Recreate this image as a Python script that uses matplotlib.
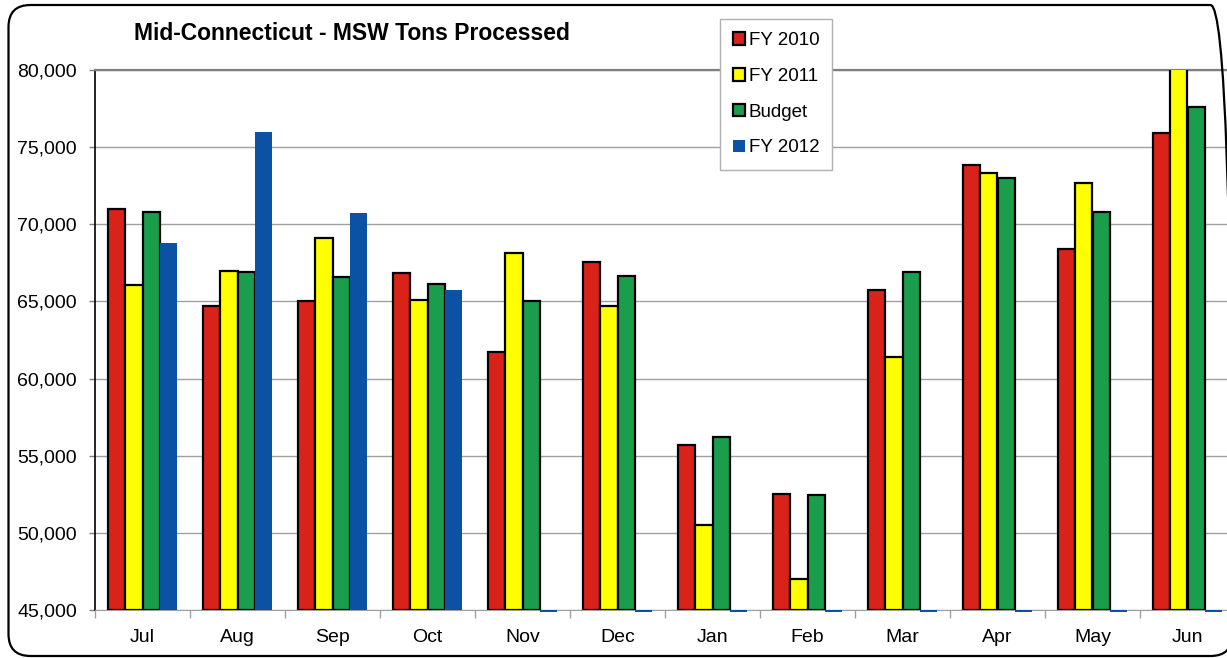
import matplotlib
matplotlib.use("Agg")
import matplotlib.pyplot as plt
from matplotlib.patches import FancyBboxPatch, Patch
from matplotlib.ticker import FuncFormatter, FixedLocator
import numpy as np

plt.rcParams['font.family'] = ['Liberation Sans', 'DejaVu Sans']

months = ["Jul", "Aug", "Sep", "Oct", "Nov", "Dec", "Jan", "Feb", "Mar", "Apr", "May", "Jun"]
fy2010 = [71000, 64700, 65030, 66840, 61720, 67560, 55700, 52520, 65740, 73840, 68400, 75920]
fy2011 = [66070, 66970, 69110, 65100, 68140, 64700, 50510, 47010, 61400, 73330, 72680, 81000]
budget = [70800, 66910, 66590, 66130, 65030, 66640, 56220, 52460, 66910, 73000, 70800, 77600]
fy2012 = [68790, 75980, 70730, 65740, 0, 0, 0, 0, 0, 0, 0, 0]

series = [
    ("FY 2010", fy2010, "#d8221a", True),
    ("FY 2011", fy2011, "#ffff00", True),
    ("Budget", budget, "#1a9e4c", True),
    ("FY 2012", fy2012, "#0b52a5", False),
]

ymin, ymax = 45000, 80000

fig = plt.figure(figsize=(12.27, 6.58), dpi=100)
ax = fig.add_axes([95 / 1227, 48 / 658, 1140 / 1227, 540 / 658])

x = np.arange(len(months))
w = 1 / 5.5
for i, (name, vals, col, edged) in enumerate(series):
    pos = x + (i - 1.5) * w
    vals = np.array(vals, dtype=float)
    if edged:
        ax.bar(pos, vals - ymin, bottom=ymin, width=w, color=col,
               edgecolor="black", linewidth=1.6, zorder=3)
    else:
        shown = vals > 0
        ax.bar(pos[shown], vals[shown] - ymin, bottom=ymin, width=w,
               color=col, linewidth=0, zorder=3)
        # zero values: Excel leaves a thin sliver under the axis
        ax.bar(pos[~shown], -130, bottom=ymin, width=w, color=col,
               linewidth=0, zorder=3, clip_on=False)

ax.set_xlim(-0.5, len(months) - 0.5)
ax.set_ylim(ymin, ymax)
ax.set_yticks(np.arange(ymin, ymax + 1, 5000))
ax.yaxis.set_major_formatter(FuncFormatter(lambda v, p: f"{int(v):,}"))
ax.set_xticks(x)
ax.set_xticklabels(months)
ax.xaxis.set_minor_locator(FixedLocator(np.arange(-0.5, len(months), 1.0)))
ax.tick_params(axis="x", which="major", length=0, pad=14, labelsize=14)
ax.tick_params(axis="x", which="minor", length=6, color="#a0a0a0", width=1)
ax.tick_params(axis="y", length=4, width=1, color="#808080", labelsize=14, pad=9)

ax.grid(axis="y", color="#a0a0a0", linewidth=1, zorder=0)
ax.set_axisbelow(True)
ax.spines["right"].set_visible(False)
ax.spines["top"].set_color("#808080")
ax.spines["top"].set_linewidth(1.6)
ax.spines["bottom"].set_color("#a0a0a0")
ax.spines["left"].set_color("black")
ax.spines["left"].set_linewidth(1.2)

fig.text(352 / 1227, 1 - 33 / 658, "Mid-Connecticut - MSW Tons Processed",
         ha="center", va="center", fontsize=16.5, fontweight="bold")

handles = []
for name, vals, col, edged in series:
    handles.append(Patch(facecolor=col, edgecolor="black" if edged else col,
                         linewidth=1.6 if edged else 0, label=name))
leg = fig.legend(handles=handles, loc="upper left",
                 bbox_to_anchor=(719.5 / 1227, 1 - 19 / 658),
                 fancybox=False, edgecolor="#b0b0b0", fontsize=13.5,
                 handlelength=0.65, handleheight=0.65, handletextpad=0.2,
                 labelspacing=1.0, borderpad=0.7, borderaxespad=0,
                 framealpha=1)
leg.get_frame().set_linewidth(1)

border = FancyBboxPatch((0.085, 0.02), 12.24, 6.51,
                        boxstyle="round,pad=0,rounding_size=0.22",
                        transform=fig.dpi_scale_trans, fill=False,
                        edgecolor="black", linewidth=1.6, clip_on=False)
fig.patches.append(border)

fig.savefig("out.png", dpi=100)
